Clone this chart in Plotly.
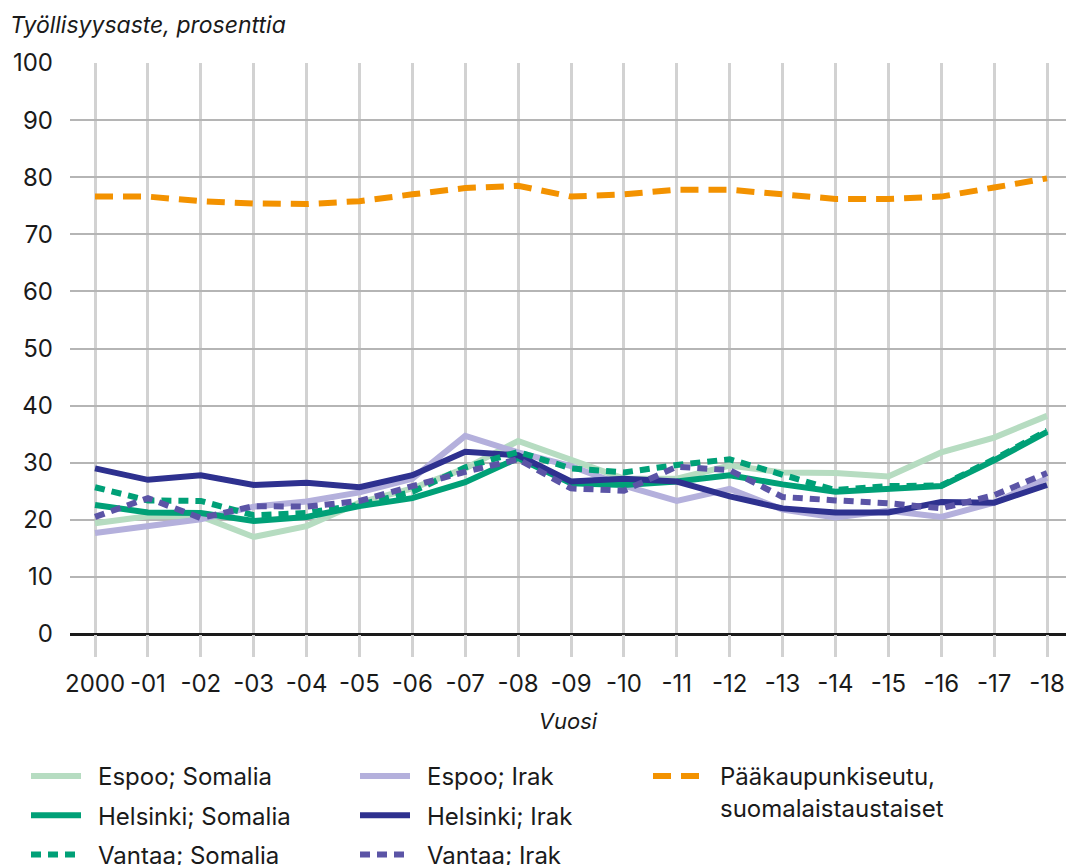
import plotly.graph_objects as go

years = list(range(2000, 2019))
tick_labels = ["2000", "-01", "-02", "-03", "-04", "-05", "-06", "-07", "-08", "-09",
               "-10", "-11", "-12", "-13", "-14", "-15", "-16", "-17", "-18"]

espoo_somalia = [19.4, 20.6, 20.6, 17.0, 18.9, 23.0, 25.5, 29.0, 33.8, 30.6, 27.2, 27.2, 29.5, 28.3, 28.2, 27.6, 31.8, 34.4, 38.2]
helsinki_somalia = [22.6, 21.3, 21.2, 19.8, 20.5, 22.4, 23.8, 26.6, 30.8, 26.4, 26.1, 26.7, 27.8, 26.2, 24.9, 25.5, 25.9, 30.4, 35.4]
vantaa_somalia = [25.7, 23.4, 23.3, 20.8, 21.2, 22.6, 24.9, 29.2, 31.9, 29.0, 28.3, 29.6, 30.6, 27.8, 25.2, 25.9, 26.0, 30.6, 35.6]
espoo_irak = [17.7, 18.9, 20.1, 22.3, 23.2, 24.8, 27.2, 34.7, 31.8, 29.4, 26.0, 23.3, 25.4, 21.8, 20.4, 21.6, 20.5, 23.0, 27.3]
helsinki_irak = [29.0, 27.0, 27.8, 26.1, 26.5, 25.7, 27.8, 31.9, 31.3, 26.7, 27.2, 26.7, 24.1, 22.0, 21.3, 21.3, 23.1, 23.0, 26.1]
vantaa_irak = [20.5, 23.8, 20.3, 22.4, 22.3, 23.3, 25.9, 28.4, 30.6, 25.5, 25.1, 29.3, 28.7, 24.0, 23.4, 22.9, 22.0, 24.3, 28.2]
paakaupunkiseutu = [76.6, 76.6, 75.8, 75.4, 75.3, 75.8, 77.0, 78.1, 78.5, 76.6, 77.0, 77.8, 77.8, 77.0, 76.2, 76.2, 76.6, 78.2, 79.8]

FONT = "Inter, Roboto, sans-serif"
W, H = 1066, 865
GAP = "\u2002"  # small lead-in between legend symbol and label

series = [
    ("Espoo; Somalia", espoo_somalia, "#b6dcc1", "solid", "legend"),
    ("Espoo; Irak", espoo_irak, "#b4b0dc", "solid", "legend2"),
    ("Helsinki; Somalia", helsinki_somalia, "#00a077", "solid", "legend"),
    ("Helsinki; Irak", helsinki_irak, "#2e318f", "solid", "legend2"),
    ("Vantaa; Somalia", vantaa_somalia, "#00a077", "10px,7px", "legend"),
    ("Vantaa; Irak", vantaa_irak, "#5b54a6", "10px,7px", "legend2"),
    ("Pääkaupunkiseutu,<br>" + GAP + "suomalaistaustaiset", paakaupunkiseutu, "#f39200", "18px,10px", "legend3"),
]

fig = go.Figure()
for i, (name, vals, color, dash, leg) in enumerate(series):
    fig.add_trace(go.Scatter(
        x=years, y=vals, name=GAP + name, mode="lines",
        line=dict(color=color, width=6, dash=dash),
        legend=leg, legendgroup=f"g{i}",
        hoverinfo="skip",
    ))

leg_common = dict(
    xref="container", yref="container", xanchor="left", yanchor="top",
    orientation="v", font=dict(family=FONT, size=24, color="#1a1a1a"),
    bgcolor="rgba(0,0,0,0)", tracegroupgap=5, itemwidth=50,
)

fig.update_layout(
    width=W, height=H,
    margin=dict(l=70, r=0, t=63, b=231, autoexpand=False),
    paper_bgcolor="white", plot_bgcolor="white",
    font=dict(family=FONT, size=23, color="#1a1a1a"),
    title=dict(text="Työllisyysaste, prosenttia", x=10 / W, xref="container", xanchor="left",
               y=1 - 25 / H, yref="container", yanchor="middle",
               font=dict(family=FONT, size=23, style="italic", color="#1a1a1a")),
    xaxis=dict(
        range=[1999.527, 2018.359], tickvals=years, ticktext=tick_labels,
        showgrid=True, gridcolor="#d2d2d2", gridwidth=2.5,
        ticks="outside", ticklen=22, tickcolor="#d2d2d2", tickwidth=2.5,
        ticklabelstandoff=6,
        showline=False, zeroline=False,
        tickfont=dict(family=FONT, size=24, color="#1a1a1a"),
        title=dict(text="Vuosi", standoff=16,
                   font=dict(family=FONT, size=22, style="italic", color="#1a1a1a")),
    ),
    yaxis=dict(
        range=[0, 100], dtick=10, showgrid=True, gridcolor="#b5b5b5", gridwidth=1.5,
        zeroline=True, zerolinecolor="#1a1a1a", zerolinewidth=2.5,
        ticks="", ticklabelstandoff=16, showline=False,
        tickfont=dict(family=FONT, size=24, color="#1a1a1a"),
    ),
    showlegend=True,
    legend=dict(x=26 / W, y=1 - 754 / H, **leg_common),
    legend2=dict(x=355 / W, y=1 - 754 / H, **leg_common),
    legend3=dict(x=648 / W, y=1 - 754 / H, valign="top", **leg_common),
)

fig.write_html("out.html", config={"displayModeBar": False},
               post_script="document.body.style.margin='0';document.body.style.overflow='hidden';")
